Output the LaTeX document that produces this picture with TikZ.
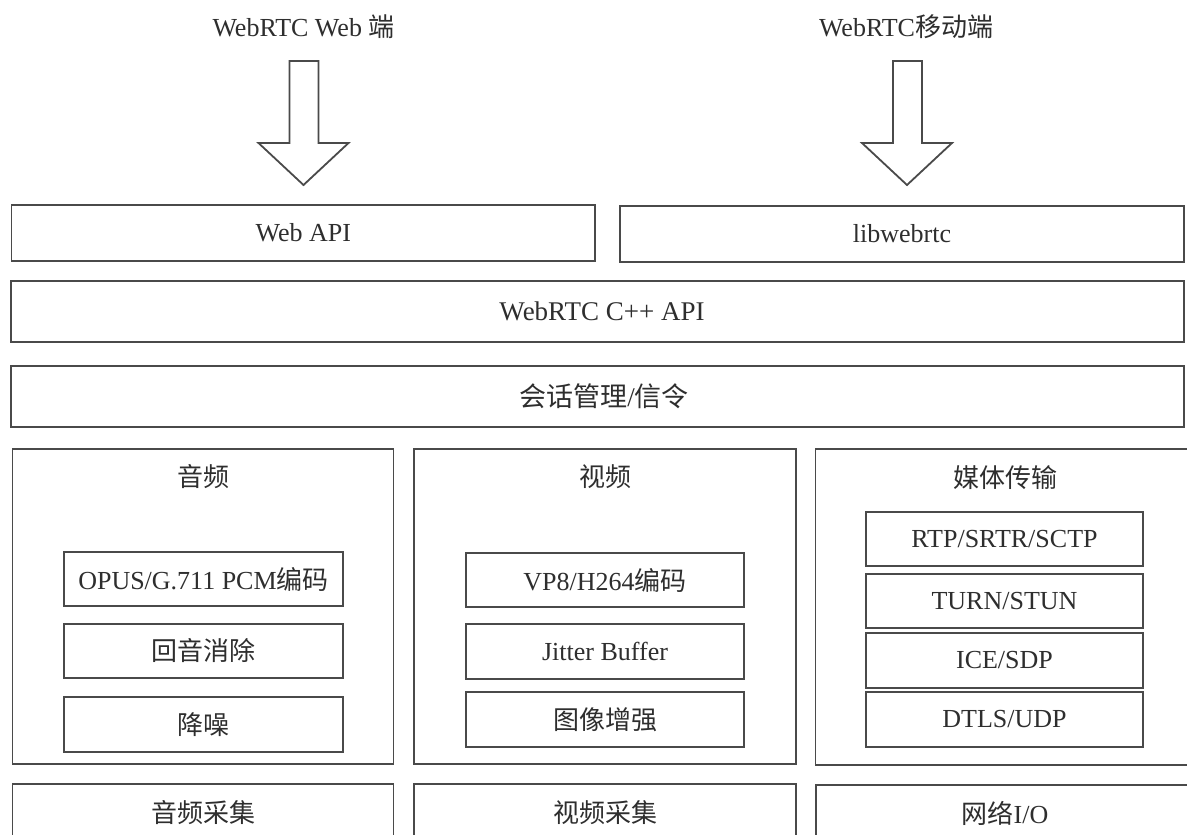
\documentclass[tikz,border=0pt]{standalone}
\usepackage{fontspec}
\setmainfont{Liberation Serif}
\newfontfamily\cjk{Noto Sans CJK SC}
\usetikzlibrary{calc}
\definecolor{linec}{HTML}{4A4A4A}
\definecolor{textc}{HTML}{2E2E2E}
\tikzset{
  ln/.style={draw=linec, line width=1.8pt},
  txt/.style={inner sep=0pt, text=textc, font=\fontsize{26}{30}\selectfont},
  box/.style={ln, rectangle, inner sep=0pt, align=center, text=textc, font=\fontsize{26}{30}\selectfont},
  blockarrow/.style={ln, line join=miter, fill=white},
}
\newcommand{\blkarrow}[1]{%
  \draw[blockarrow] ($(#1)+(-14,-124)$) -- ($(#1)+(15,-124)$) -- ($(#1)+(15,-42)$)
    -- ($(#1)+(45,-42)$) -- (#1) -- ($(#1)+(-45,-42)$) -- ($(#1)+(-14,-42)$) -- cycle;}
\begin{document}
\begin{tikzpicture}[x=1pt, y=-1pt]
\useasboundingbox (0,0) rectangle (1187,835);
\clip (0,0) rectangle (1187,835);
\fill[white] (0,0) rectangle (1187,835);

% top titles
\node[txt] (tweb) at (303.5,27) {WebRTC Web {\cjk 端}};
\node[txt] (tmob) at (906,27) {WebRTC{\cjk 移动端}};

% top layer boxes
\node[box, minimum width=583.5, minimum height=56] (webapi) at (303.25,233) {Web API};
\node[box, minimum width=564, minimum height=56] (libw) at (902,234) {libwebrtc};
\node[box, minimum width=1173, minimum height=61] (cpp) at (597.5,311.5) {};
\node[box, minimum width=1173, minimum height=61] (sess) at (597.5,396.5) {};
\node[txt, font=\fontsize{27}{31}\selectfont] at (602,311.5) {WebRTC C++ API};
\node[txt, font=\fontsize{27}{31}\selectfont] at (604,396.5) {{\cjk 会话管理}/{\cjk 信令}};

% block arrows
\coordinate (tipL) at (303.5,185);
\coordinate (tipR) at (907,185);
\blkarrow{tipL}
\blkarrow{tipR}

% module containers
\node[box, minimum width=381, minimum height=315] (audio) at (203,606.5) {};
\node[box, minimum width=382, minimum height=315] (video) at (605,606.5) {};
\node[box, minimum width=379.5, minimum height=316] (media) at (1005.25,607) {};
\node[txt] (taudio) at (203,477) {\cjk 音频};
\node[txt] (tvideo) at (605,477) {\cjk 视频};
\node[txt] (tmedia) at (1005,478) {\cjk 媒体传输};

% audio inner
\node[box, minimum width=279, minimum height=54] (opus) at (203.5,579) {OPUS/G.711 PCM{\cjk 编码}};
\node[box, minimum width=279, minimum height=54] (aec) at (203.5,651) {\cjk 回音消除};
\node[box, minimum width=279, minimum height=55] (ns) at (203.5,724.5) {\cjk 降噪};

% video inner
\node[box, minimum width=278, minimum height=54] (vp8) at (605,580) {VP8/H264{\cjk 编码}};
\node[box, minimum width=278, minimum height=55] (jit) at (605,651.5) {Jitter Buffer};
\node[box, minimum width=278, minimum height=55] (enh) at (605,719.5) {\cjk 图像增强};

% media inner
\node[box, minimum width=277, minimum height=54] (rtp) at (1004.5,539) {RTP/SRTR/SCTP};
\node[box, minimum width=277, minimum height=54] (turn) at (1004.5,601) {TURN/STUN};
\node[box, minimum width=277, minimum height=55] (ice) at (1004.5,660.5) {ICE/SDP};
\node[box, minimum width=277, minimum height=55] (dtls) at (1004.5,719.5) {DTLS/UDP};

% bottom row
\node[box, minimum width=381, minimum height=61] (acap) at (203,814.5) {};
\node[box, minimum width=382, minimum height=61] (vcap) at (605,814.5) {};
\node[box, minimum width=379, minimum height=61] (netio) at (1005.5,815.5) {};
\node[txt] at (203,813) {\cjk 音频采集};
\node[txt] at (605,813) {\cjk 视频采集};
\node[txt] at (1005,813) {{\cjk 网络}I/O};
\end{tikzpicture}
\end{document}
